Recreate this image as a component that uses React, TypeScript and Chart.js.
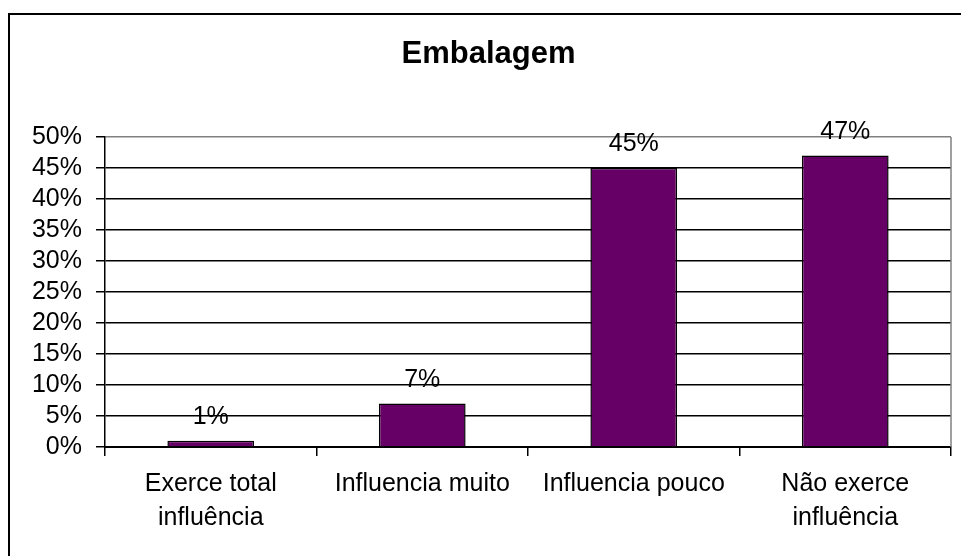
import React, { useEffect, useRef } from "react";
import { Chart, registerables } from "chart.js";

Chart.register(...registerables);

const TITLE = "Embalagem";
const CATEGORIES: string[][] = [
  ["Exerce total", "influência"],
  ["Influencia muito"],
  ["Influencia pouco"],
  ["Não exerce", "influência"],
];
const VALUES: number[] = [1, 7, 45, 47];
const Y_MIN = 0;
const Y_MAX = 50;
const Y_STEP = 5;

const FONT = "'Liberation Sans', Arial, Helvetica, sans-serif";

export default function App() {
  const ref = useRef<HTMLCanvasElement | null>(null);

  useEffect(() => {
    const canvas = ref.current;
    if (!canvas) return;

    const decor = {
      id: "decor",
      beforeDraw(chart: any) {
        const ctx = chart.ctx;
        ctx.save();
        ctx.fillStyle = "#fff";
        ctx.fillRect(0, 0, chart.width, chart.height);
        ctx.fillStyle = "#000";
        ctx.fillRect(8, 13, 2, chart.height);
        ctx.fillRect(8, 13, chart.width, 2);
        ctx.font = `bold 31px ${FONT}`;
        ctx.textAlign = "center";
        ctx.textBaseline = "alphabetic";
        ctx.fillText(TITLE, 488.5, 63);
        ctx.restore();
      },
      afterDatasetsDraw(chart: any) {
        const ctx = chart.ctx;
        const area = chart.chartArea;
        ctx.save();
        ctx.strokeStyle = "#808080";
        ctx.lineWidth = 1.5;
        ctx.beginPath();
        ctx.moveTo(area.right, area.top);
        ctx.lineTo(area.right, area.bottom);
        ctx.stroke();
        ctx.fillStyle = "#000";
        ctx.font = `25px ${FONT}`;
        ctx.textAlign = "center";
        ctx.textBaseline = "alphabetic";
        const meta = chart.getDatasetMeta(0);
        meta.data.forEach((bar: any, i: number) => {
          ctx.fillText(`${VALUES[i]}%`, bar.x, bar.y - 17);
        });
        ctx.restore();
      },
    };

    const chart = new Chart(canvas, {
      type: "bar",
      data: {
        labels: CATEGORIES,
        datasets: [
          {
            data: VALUES,
            backgroundColor: "#660066",
            borderColor: "#000",
            borderWidth: 1.5,
            barPercentage: 0.41,
            categoryPercentage: 1,
          },
        ],
      },
      options: {
        responsive: false,
        animation: false,
        devicePixelRatio: 1,
        layout: { padding: { top: 137, right: 10, left: 0, bottom: 0 } },
        plugins: {
          legend: { display: false },
          title: { display: false },
          tooltip: { enabled: false },
        },
        scales: {
          x: {
            offset: true,
            grid: {
              offset: true,
              drawOnChartArea: false,
              drawTicks: true,
              tickLength: 9,
              color: "#000",
              lineWidth: 1.5,
            },
            border: { color: "#000", width: 2 },
            ticks: {
              color: "#000",
              font: { family: FONT, size: 25, lineHeight: 1.36 },
              padding: 11,
              maxRotation: 0,
              autoSkip: false,
            },
            afterFit(scale: any) {
              scale.height = 109;
            },
          },
          y: {
            min: Y_MIN,
            max: Y_MAX,
            grid: {
              color: (c: any) => (c.tick && c.tick.value === Y_MAX ? "#808080" : "#000"),
              tickColor: "#000",
              lineWidth: 1.5,
              tickLength: 9,
            },
            border: { color: "#000", width: 1.5 },
            ticks: {
              stepSize: Y_STEP,
              autoSkip: false,
              color: "#000",
              font: { family: FONT, size: 25 },
              padding: 14,
              callback: (v: any) => `${v}%`,
            },
            afterFit(scale: any) {
              scale.width = 105;
            },
          },
        },
      },
      plugins: [decor],
    });

    return () => chart.destroy();
  }, []);

  return (
    <div style={{ position: "fixed", left: 0, top: 0, width: 961, height: 556 }}>
      <canvas ref={ref} width={961} height={556} style={{ width: 961, height: 556, display: "block" }} />
    </div>
  );
}
